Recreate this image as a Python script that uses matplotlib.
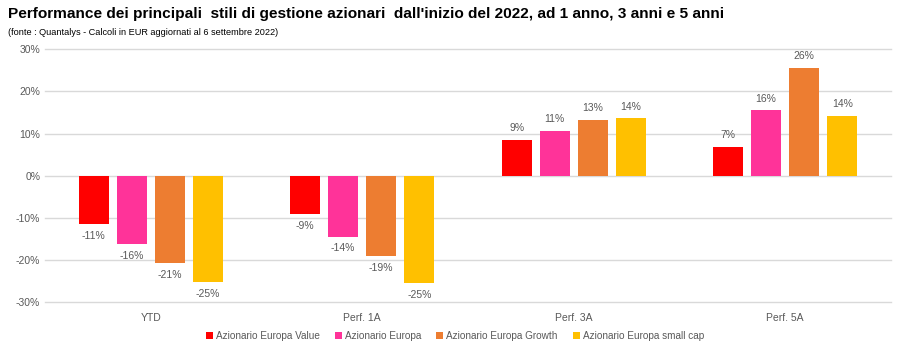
import numpy as np
import matplotlib.pyplot as plt
from matplotlib.ticker import FuncFormatter

categories = ["YTD", "Perf. 1A", "Perf. 3A", "Perf. 5A"]
series_names = ["Azionario Europa Value", "Azionario Europa",
                "Azionario Europa Growth", "Azionario Europa small cap"]
value_eu = [-11.4, -9.0, 8.6, 6.8]
europa = [-16.1, -14.4, 10.6, 15.5]
growth = [-20.6, -19.0, 13.3, 25.5]
small_cap = [-25.2, -25.4, 13.6, 14.2]
colors = ["#FF0000", "#FF3399", "#ED7D31", "#FFC000"]

series = [value_eu, europa, growth, small_cap]

plt.rcParams['font.family'] = ['Liberation Sans', 'DejaVu Sans']

fig = plt.figure(figsize=(9.1, 3.54), dpi=100)
ax = fig.add_axes([0.0495, 0.146, 0.9295, 0.7147])

x = np.arange(len(categories))
pitch = 0.18
width = 0.142
grey = "#595959"
for i, (vals, name, c) in enumerate(zip(series, series_names, colors)):
    pos = x + (i - 1.5) * pitch
    bars = ax.bar(pos, vals, width, color=c, label=name, zorder=3)
    for b, v in zip(bars, vals):
        if v >= 0:
            ax.annotate(f"{v:.0f}%", (b.get_x() + b.get_width() / 2, v),
                        xytext=(0, 5), textcoords="offset points",
                        ha="center", va="bottom", fontsize=7.5, color=grey)
        else:
            ax.annotate(f"{v:.0f}%", (b.get_x() + b.get_width() / 2, v),
                        xytext=(0, -5), textcoords="offset points",
                        ha="center", va="top", fontsize=7.5, color=grey)

ax.set_xlim(-0.5, 3.5)
ax.set_ylim(-30, 30)
ax.set_yticks(range(-30, 31, 10))
ax.yaxis.set_major_formatter(FuncFormatter(lambda v, p: f"{v:.0f}%"))
ax.set_xticks(x)
ax.set_xticklabels(categories)
ax.tick_params(axis="both", length=0, labelsize=7.5, colors=grey)
ax.tick_params(axis="x", pad=8)
ax.grid(axis="y", color="#D9D9D9", linewidth=1, zorder=0, clip_on=False)
for s in ax.spines.values():
    s.set_visible(False)

fig.text(0.009, 0.96, "Performance dei principali  stili di gestione azionari  dall'inizio del 2022, ad 1 anno, 3 anni e 5 anni",
         fontsize=11.1, fontweight="bold", va="center", ha="left")
fig.text(0.009, 0.908, "(fonte : Quantalys - Calcoli in EUR aggiornati al 6 settembre 2022)",
         fontsize=6.6, va="center", ha="left")

fig.legend(loc="center", bbox_to_anchor=(0.5, 0.052), ncol=4, frameon=False,
           fontsize=7.2, handlelength=0.7, handleheight=0.7, handletextpad=0.3,
           columnspacing=1.5, labelcolor=grey)

fig.savefig("out.png", dpi=100)
